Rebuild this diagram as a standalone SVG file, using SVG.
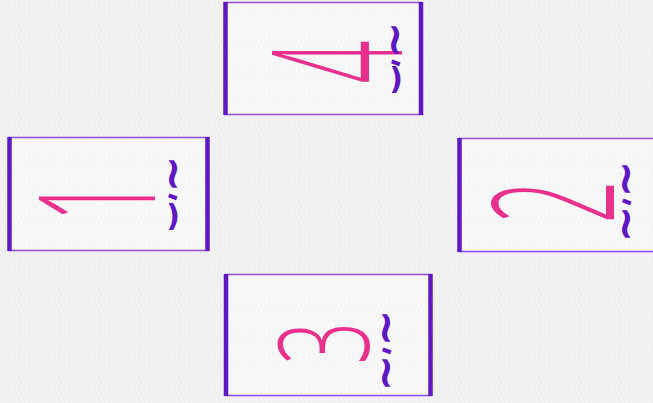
<svg xmlns="http://www.w3.org/2000/svg" width="653" height="403" viewBox="0 0 653 403">
  <defs>
    <pattern id="tex" width="5" height="11" patternUnits="userSpaceOnUse">
      <rect width="5" height="11" fill="#efefef"/>
      <rect x="1" y="0" width="1" height="7" fill="#f5f5f5"/>
      <rect x="3" y="4" width="1" height="7" fill="#f3f3f3"/>
    </pattern>
    <pattern id="tex2" width="5" height="11" patternUnits="userSpaceOnUse">
      <rect width="5" height="11" fill="#f6f6f6"/>
      <rect x="1" y="0" width="1" height="7" fill="#fbfbfb"/>
      <rect x="3" y="4" width="1" height="7" fill="#fafafa"/>
    </pattern>
  </defs>
  <style>
    .box { fill: url(#tex2); stroke: #8e58e0; stroke-width: 1.6; }
    .side { stroke: #5f17c4; stroke-width: 4.5; stroke-linecap: butt; }
    .num { font-family: "Open Sans", "Liberation Sans", sans-serif; font-weight: 300; font-size: 100px; fill: #e8308c; text-anchor: middle; }
    .sq { font-family: "DejaVu Sans", sans-serif; font-weight: bold; font-size: 44px; fill: #5f17c4; text-anchor: middle; }
    .dash { font-family: "DejaVu Sans", sans-serif; font-weight: bold; font-size: 28px; fill: #5f17c4; text-anchor: middle; }
    .par { font-family: "DejaVu Sans", sans-serif; font-weight: bold; font-size: 30px; fill: #5f17c4; text-anchor: middle; }
  </style>
  <rect width="653" height="403" fill="url(#tex)"/>

  <g id="node-1">
    <rect class="box" x="9" y="137.5" width="199" height="113"/>
    <line class="side" x1="9.5" y1="137" x2="9.5" y2="251"/>
    <line class="side" x1="207.5" y1="137" x2="207.5" y2="251"/>
    <text class="num" transform="translate(97,200) rotate(-90) scale(0.75,1.62)" x="0" y="36">1</text>
    <text class="sq" transform="translate(174,174) rotate(90)" x="0" y="15">~</text>
    <text class="dash" transform="translate(173,196) rotate(20)" x="0" y="9">-</text>
    <text class="par" x="173" y="226">)</text>
  </g>

  <g id="node-4">
    <rect class="box" x="225" y="2.5" width="197" height="112"/>
    <line class="side" x1="225.5" y1="2" x2="225.5" y2="115"/>
    <line class="side" x1="421" y1="2" x2="421" y2="115"/>
    <text class="num" transform="translate(337,62) rotate(-90) scale(0.75,1.8)" x="0" y="36">4</text>
    <text class="sq" transform="translate(396,40) rotate(90)" x="0" y="15">~</text>
    <text class="dash" transform="translate(396,62) rotate(20)" x="0" y="9">-</text>
    <text class="par" x="396" y="89">)</text>
  </g>

  <g id="node-2">
    <rect class="box" x="459.5" y="138.5" width="200" height="113"/>
    <line class="side" x1="459.5" y1="138" x2="459.5" y2="252"/>
    <text class="num" transform="translate(553,202) rotate(-90) scale(0.75,1.7)" x="0" y="36">2</text>
    <text class="sq" transform="translate(627,179) rotate(90)" x="0" y="15">~</text>
    <text class="dash" transform="translate(627,201) rotate(20)" x="0" y="9">-</text>
    <text class="sq" transform="translate(627,224) rotate(90)" x="0" y="15">~</text>
  </g>

  <g id="node-3">
    <rect class="box" x="226" y="274.5" width="205" height="121"/>
    <line class="side" x1="226" y1="274" x2="226" y2="396"/>
    <line class="side" x1="430.5" y1="274" x2="430.5" y2="396"/>
    <text class="num" transform="translate(324,343) rotate(-90) scale(0.75,1.25)" x="0" y="36">3</text>
    <text class="sq" transform="translate(387,328) rotate(90)" x="0" y="15">~</text>
    <text class="dash" transform="translate(387,350) rotate(20)" x="0" y="9">-</text>
    <text class="sq" transform="translate(387,373) rotate(90)" x="0" y="15">~</text>
  </g>

  <g id="connectors"></g>
</svg>
